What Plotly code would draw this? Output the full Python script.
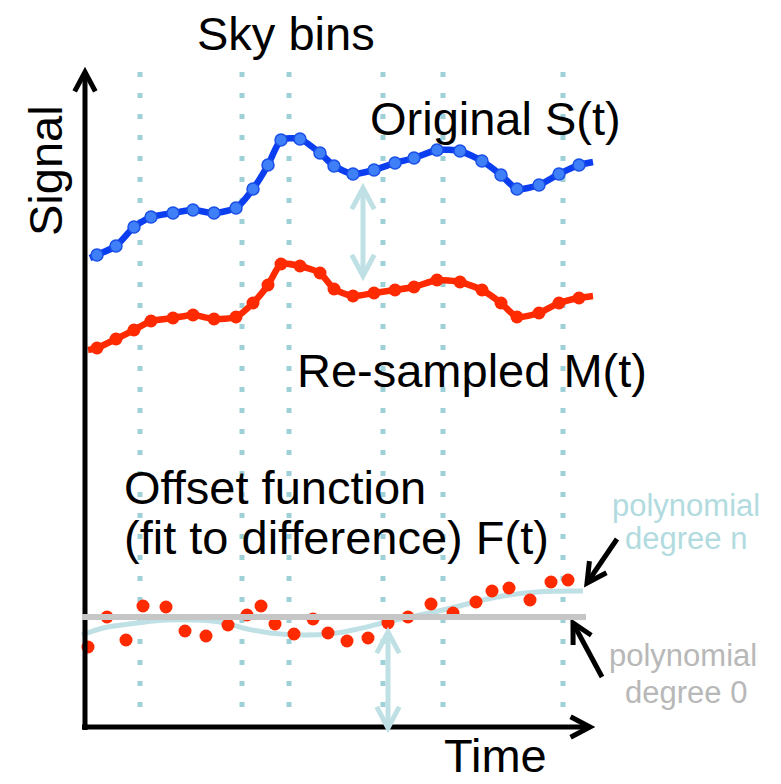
import numpy as np
import plotly.graph_objects as go

# ---- data (time units, signal units; origin at the axes corner) ----
time = [12, 31, 49, 66, 88, 108, 129, 151, 168, 183, 196, 215, 235, 249, 268,
        289, 310, 329, 352, 375, 397, 416, 432, 454, 474, 494]
original = [472, 481, 500, 510, 514, 517, 514, 519, 538, 562, 587, 588, 574, 561, 553,
            557, 564, 569, 577, 576, 566, 552, 538, 542, 553, 562]
resampled = [379, 388, 397, 406, 409, 412, 408, 410, 424, 442, 463, 461, 454, 438, 431,
             434, 437, 440, 447, 445, 437, 424, 410, 414, 424, 429]
orig_ends_t = [5, 508]
orig_ends_s = [469, 565]
res_ends_t = [3, 508]
res_ends_s = [377, 431]

diff_time = [3, 22, 41, 58, 81, 100, 121, 143, 162, 176, 190, 209, 228, 243, 262,
             283, 303, 323, 346, 368, 391, 407, 424, 445, 466, 483]
difference = [80, 110, 87, 121, 120, 96, 91, 102, 112, 121, 103, 93, 108, 94, 86,
              89, 104, 110, 123, 114, 125, 136, 139, 127, 145, 147]

fit_time = [-3, 18, 52, 82, 135, 158, 185, 212, 245, 268, 302, 358, 412, 452, 498]
fit_degree_n = [92, 99, 104, 107, 105, 99, 94, 92, 93, 97, 105, 117, 130, 135, 136]
fit_degree_0 = 110
fit0_range = [-3, 501]

sky_bins = [55, 157, 204, 298, 358, 478]

FONT = "Liberation Sans, Arial, Helvetica, sans-serif"
BLUE_LINE = "#0b3ef0"
BLUE_MARK = "#3f7ff7"
RED = "#ff2a00"
TEAL_DOT = "#9dd0d7"
TEAL = "#bfe0e4"
TEAL_TXT = "#b2dbe0"
GRAY = "#c6c6c6"
GRAY_TXT = "#b8b8b8"

fig = go.Figure()
shapes = []

# sky-bin dotted lines
for b in sky_bins:
    shapes.append(dict(type="line", x0=b, x1=b, y0=655, y1=12, xref="x", yref="y",
                       line=dict(color=TEAL_DOT, width=5, dash="5px,16px"), layer="below"))


def chevron(tip, tail, color, width, L=22, ang=28):
    tip = np.array(tip, float)
    tail = np.array(tail, float)
    d = tail - tip
    d = d / np.linalg.norm(d)
    a = np.radians(ang)
    rot = lambda v, t: np.array([v[0]*np.cos(t) - v[1]*np.sin(t), v[0]*np.sin(t) + v[1]*np.cos(t)])
    w1 = tip + L * rot(d, a)
    w2 = tip + L * rot(d, -a)
    return dict(type="path", xref="x", yref="y",
                path=f"M {w1[0]},{w1[1]} L {tip[0]},{tip[1]} L {w2[0]},{w2[1]}",
                line=dict(color=color, width=width))


def arrow(tail, tip, color, width, double=False, L=22):
    out = [dict(type="line", xref="x", yref="y", x0=tail[0], y0=tail[1], x1=tip[0], y1=tip[1],
                line=dict(color=color, width=width))]
    out.append(chevron(tip, tail, color, width, L))
    if double:
        out.append(chevron(tail, tip, color, width, L))
    return out


# axes
shapes += arrow((0, -3), (0, 655), "black", 5)
shapes += arrow((-3, 0), (505, 0), "black", 5)

# light teal double arrows
shapes += arrow((278, 451), (278, 539), TEAL, 5, double=True, L=24)
shapes += arrow((303, -1), (303, 95), TEAL, 5, double=True, L=24)

# black pointer arrows
shapes += arrow((532, 188), (502, 144), "black", 5)
shapes += arrow((517, 50), (488, 104), "black", 5)

# degree 0 line
shapes.append(dict(type="line", xref="x", yref="y", x0=fit0_range[0], x1=fit0_range[1],
                   y0=fit_degree_0, y1=fit_degree_0, line=dict(color=GRAY, width=6)))

# degree n fit
fig.add_trace(go.Scatter(x=fit_time, y=fit_degree_n, mode="lines",
                         line=dict(color=TEAL, width=5, shape="spline", smoothing=1.0),
                         hoverinfo="skip"))

# difference points
fig.add_trace(go.Scatter(x=diff_time, y=difference, mode="markers",
                         marker=dict(color=RED, size=13, line=dict(width=0)), hoverinfo="skip"))

# original curve
fig.add_trace(go.Scatter(x=[orig_ends_t[0]] + time + [orig_ends_t[1]],
                         y=[orig_ends_s[0]] + original + [orig_ends_s[1]], mode="lines",
                         line=dict(color=BLUE_LINE, width=6.5, shape="spline", smoothing=0.6),
                         hoverinfo="skip"))
fig.add_trace(go.Scatter(x=time, y=original, mode="markers",
                         marker=dict(color=BLUE_MARK, size=12, line=dict(color="#1a4fe8", width=1.5)),
                         hoverinfo="skip"))

# resampled curve
fig.add_trace(go.Scatter(x=[res_ends_t[0]] + time + [res_ends_t[1]],
                         y=[res_ends_s[0]] + resampled + [res_ends_s[1]], mode="lines",
                         line=dict(color=RED, width=6.5, shape="spline", smoothing=0.6),
                         hoverinfo="skip"))
fig.add_trace(go.Scatter(x=time, y=resampled, mode="markers",
                         marker=dict(color=RED, size=13, line=dict(width=0)), hoverinfo="skip"))


def txt(x, y, s, size=47, color="black", xanchor="center", angle=0):
    return dict(x=x, y=y, xref="x", yref="y", text=s, showarrow=False, xanchor=xanchor,
                yanchor="middle", textangle=angle,
                font=dict(family=FONT, size=size, color=color))


annotations = [
    txt(201, 694, "Sky bins"),
    txt(410, 609, "Original S(t)"),
    txt(387, 357, "Re-sampled M(t)"),
    txt(37, 240, "Offset function", xanchor="left"),
    txt(37, 190, "(fit to difference) F(t)", xanchor="left"),
    txt(-40, 556, "Signal", angle=-90),
    txt(410, -28, "Time"),
    txt(601, 222, "polynomial", size=31, color=TEAL_TXT),
    txt(601, 189, "degree n", size=31, color=TEAL_TXT),
    txt(598, 72, "polynomial", size=31, color=GRAY_TXT),
    txt(601, 35, "degree 0", size=31, color=GRAY_TXT),
]

# the page body adds an 8px offset; size and range compensate so 1 unit = 1 px
fig.update_layout(
    width=773, height=776,
    margin=dict(l=0, r=0, t=0, b=0),
    paper_bgcolor="white", plot_bgcolor="white",
    showlegend=False,
    xaxis=dict(range=[-77, 696], visible=False, fixedrange=True),
    yaxis=dict(range=[-57, 719], visible=False, fixedrange=True),
    shapes=shapes,
    annotations=annotations,
)

fig.write_html("out.html")
